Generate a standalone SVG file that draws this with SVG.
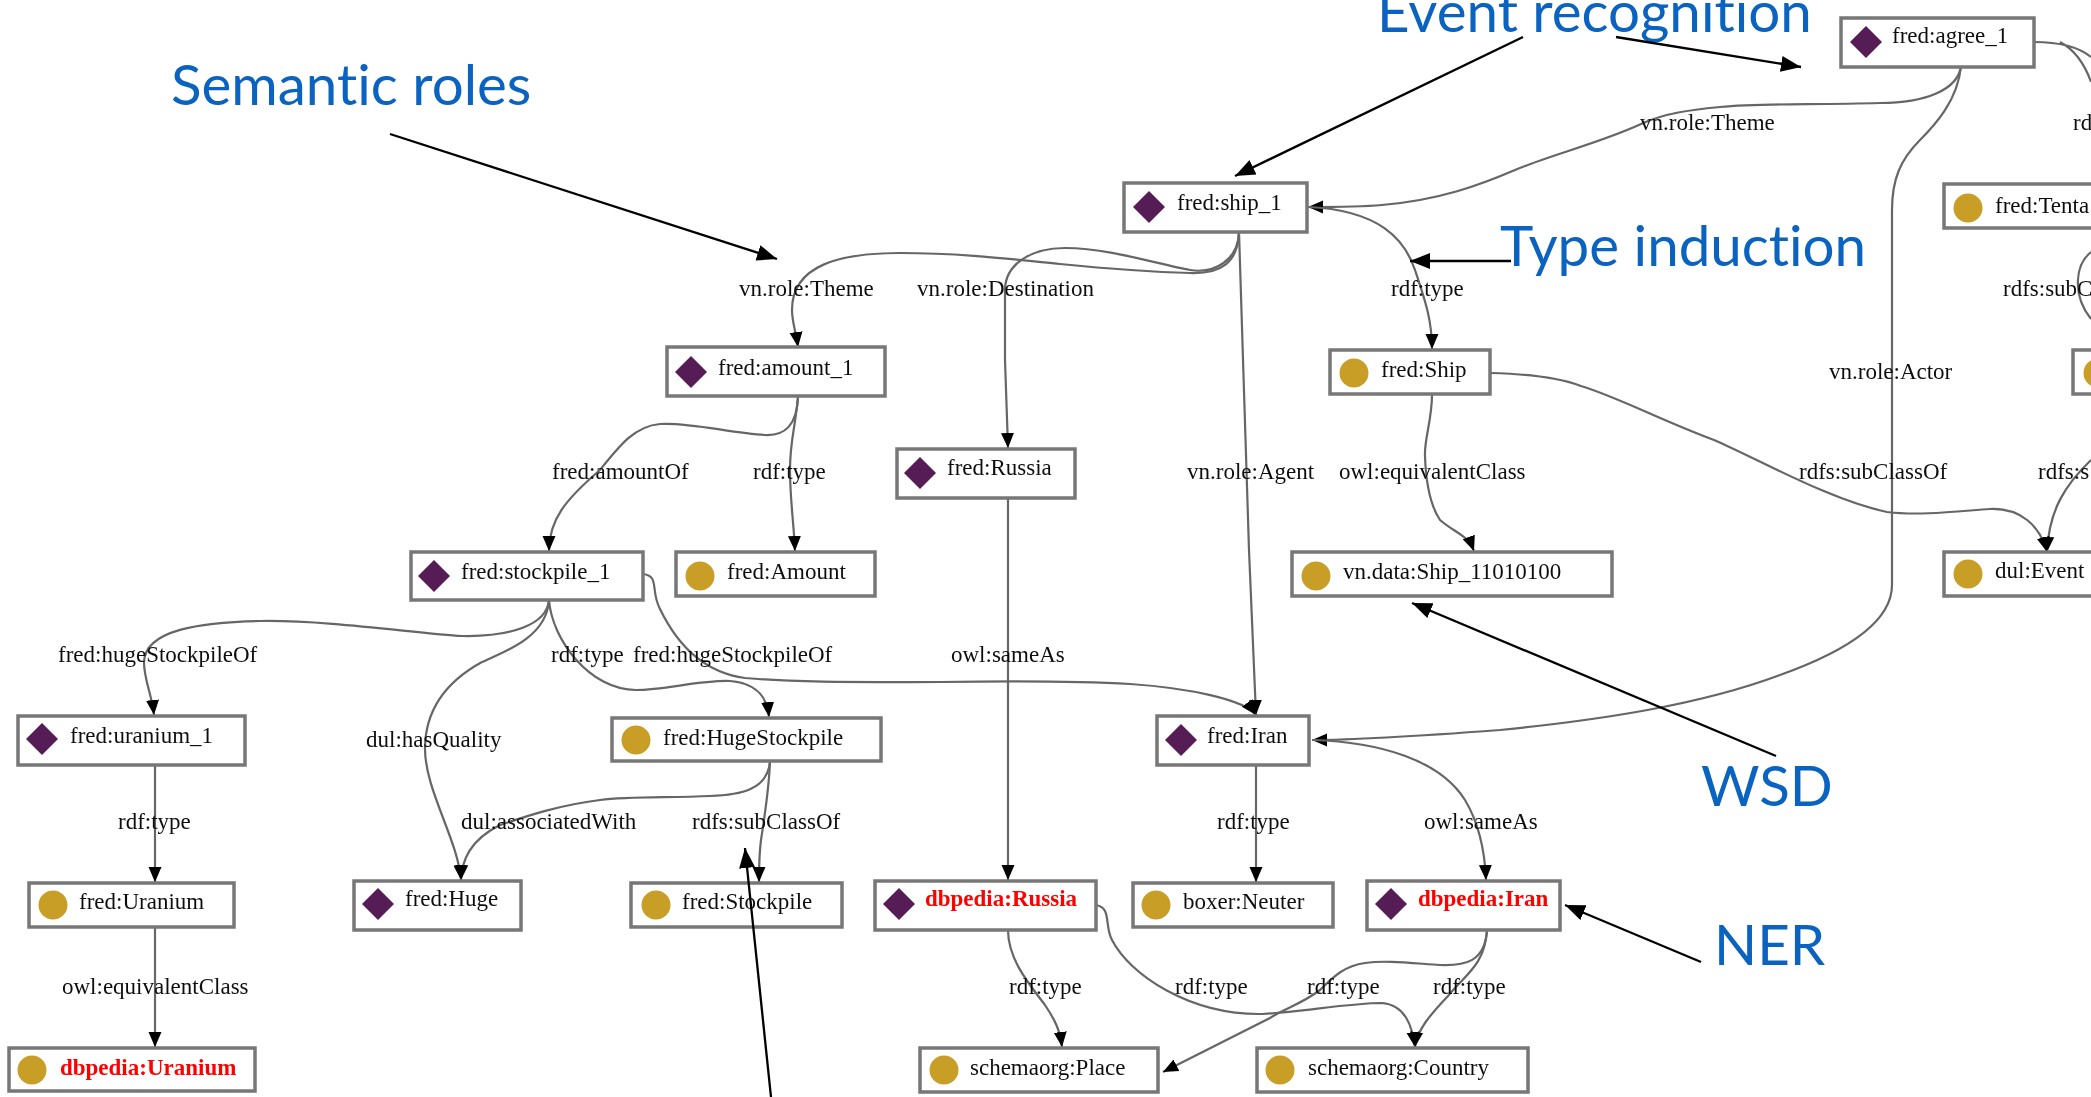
<svg xmlns="http://www.w3.org/2000/svg" width="2091" height="1097" viewBox="0 0 2091 1097">
<style>
.n{fill:#fff;stroke:#777;stroke-width:3.5}
.t{font-family:"Liberation Serif","Times New Roman",serif;font-size:23px;fill:#111}
.r{fill:#f00;font-weight:bold}
.d{fill:#541c57}
.c{fill:#c99e28}
.e{fill:none;stroke:#666;stroke-width:2.2}
.a{fill:none;stroke:#000;stroke-width:2.3}
.b{font-family:Lato,"Open Sans",sans-serif;font-size:56.5px;fill:#0a63c0;font-variant-ligatures:none}
</style>
<defs>
<filter id="soft" x="-5%" y="-5%" width="110%" height="110%"><feGaussianBlur stdDeviation="0.45"/></filter>
<polygon id="dia" points="0,-16 16,0 0,16 -16,0"/>
<marker id="h" markerUnits="userSpaceOnUse" markerWidth="17" markerHeight="15" refX="15" refY="7" orient="auto"><polygon points="0,0.5 15,7 0,13.5" fill="#000"/></marker>
<marker id="ha" markerUnits="userSpaceOnUse" markerWidth="22" markerHeight="20" refX="20" refY="10" orient="auto"><polygon points="0,2 20,10 0,18" fill="#000"/></marker>
</defs>
<rect width="2091" height="1097" fill="#fff"/>
<g filter="url(#soft)">
<g id="connectors" class="edges">
<path class="e" marker-end="url(#h)" d="M1239 232C1238 262 1222 274 1190 273C1150 272 1100 268 1060 264C1010 259 960 253 900 253C840 253 792 265 792 310C792 322 796 332 798 347"/>
<path class="e" marker-end="url(#h)" d="M1239 232C1238 260 1215 274 1190 270C1160 265 1110 248 1065 248C1030 248 1005 265 1005 290L1005 360L1008 448"/>
<path class="e" marker-end="url(#h)" d="M1239 232L1249 550L1256 715"/>
<path class="e" marker-end="url(#h)" d="M1961 66C1958 90 1925 103 1880 103C1810 105 1760 103 1720 107C1690 110 1665 113 1641 124C1600 143 1550 155 1515 170C1480 185 1440 200 1382 205C1360 207 1330 207 1308 207"/>
<path class="e" marker-end="url(#h)" d="M1308 207C1380 210 1405 240 1415 270C1425 300 1432 320 1432 349"/>
<path class="e" marker-end="url(#h)" d="M1961 66C1958 100 1935 125 1920 140C1900 160 1892 180 1892 210L1892 585C1892 620 1850 650 1780 675C1700 705 1600 720 1500 730C1420 736 1360 740 1312 740"/>
<path class="e" marker-end="url(#h)" d="M1312 740C1380 742 1440 760 1465 800C1480 825 1485 855 1486 880"/>
<path class="e" marker-end="url(#h)" d="M1256 765L1256 882"/>
<path class="e" marker-end="url(#h)" d="M1008 498L1008 880"/>
<path class="e" marker-end="url(#h)" d="M798 397C797 425 785 436 765 435C730 433 690 422 660 424C635 426 620 445 600 470C565 500 549 520 549 551"/>
<path class="e" marker-end="url(#h)" d="M798 397C795 430 790 440 790 470C790 500 794 525 795 551"/>
<path class="e" marker-end="url(#h)" d="M549 600C547 625 510 637 462 636C420 634 330 620 261 621C200 622 145 630 144 662C144 680 152 695 154 715"/>
<path class="e" marker-end="url(#h)" d="M549 600C547 635 510 650 482 662C440 685 425 715 425 749C425 790 458 840 461 880"/>
<path class="e" marker-end="url(#h)" d="M549 600C552 640 590 690 636 690C665 690 700 680 730 681C755 683 767 695 769 717"/>
<path class="e" marker-end="url(#h)" d="M643 574C660 576 650 590 660 609C675 640 700 672 745 678C800 683 870 682 940 682C1010 681 1080 681 1130 684C1190 688 1245 700 1256 715"/>
<path class="e" marker-end="url(#h)" d="M770 761C768 790 740 795 710 796C670 798 630 796 600 800C560 805 530 815 500 825C470 840 462 860 461 880"/>
<path class="e" marker-end="url(#h)" d="M770 761C769 790 764 820 761 840C759 855 759 870 759 882"/>
<path class="e" marker-end="url(#h)" d="M155 765L155 882"/>
<path class="e" marker-end="url(#h)" d="M155 927L155 1047"/>
<path class="e" marker-end="url(#h)" d="M1008 930C1008 960 1030 985 1045 1005C1055 1020 1060 1030 1062 1047"/>
<path class="e" marker-end="url(#h)" d="M1096 905C1112 908 1104 925 1112 940C1130 975 1190 1015 1262 1014C1300 1012 1350 1003 1382 1003C1405 1005 1412 1025 1415 1047"/>
<path class="e" marker-end="url(#h)" d="M1487 930C1485 962 1465 966 1440 965C1410 963 1385 960 1365 963C1345 966 1335 975 1320 990C1300 1005 1285 1008 1270 1018L1163 1072"/>
<path class="e" marker-end="url(#h)" d="M1487 930C1485 965 1465 975 1448 996C1430 1015 1417 1030 1415 1047"/>
<path class="e" d="M2034 42C2060 42 2080 48 2091 57M2060 42C2075 50 2085 65 2091 82"/>
<path class="e" d="M2091 252C2075 265 2072 295 2091 319"/>
<path class="e" marker-end="url(#h)" d="M2091 460C2065 485 2049 510 2047 552"/>
<path class="e" marker-end="url(#h)" d="M1490 373C1530 374 1560 378 1581 386C1620 398 1660 420 1714 440C1760 460 1830 500 1887 512C1920 516 1960 511 1990 509C2020 508 2040 525 2047 552"/>
<path class="e" marker-end="url(#h)" d="M1432 395C1432 420 1424 440 1425 456C1426 485 1430 505 1440 520C1455 533 1468 535 1474 551"/>
</g>
<g id="labels">
<text class="t" x="739" y="296">vn.role:Theme</text>
<text class="t" x="917" y="296">vn.role:Destination</text>
<text class="t" x="1391" y="296">rdf:type</text>
<text class="t" x="1640" y="130">vn.role:Theme</text>
<text class="t" x="2073" y="130">rd</text>
<text class="t" x="2003" y="296">rdfs:subC</text>
<text class="t" x="1829" y="379">vn.role:Actor</text>
<text class="t" x="1187" y="479">vn.role:Agent</text>
<text class="t" x="1339" y="479">owl:equivalentClass</text>
<text class="t" x="1799" y="479">rdfs:subClassOf</text>
<text class="t" x="2038" y="479">rdfs:s</text>
<text class="t" x="552" y="479">fred:amountOf</text>
<text class="t" x="753" y="479">rdf:type</text>
<text class="t" x="58" y="662">fred:hugeStockpileOf</text>
<text class="t" x="551" y="662">rdf:type</text>
<text class="t" x="633" y="662">fred:hugeStockpileOf</text>
<text class="t" x="951" y="662">owl:sameAs</text>
<text class="t" x="366" y="747">dul:hasQuality</text>
<text class="t" x="118" y="829">rdf:type</text>
<text class="t" x="461" y="829">dul:associatedWith</text>
<text class="t" x="692" y="829">rdfs:subClassOf</text>
<text class="t" x="1217" y="829">rdf:type</text>
<text class="t" x="1424" y="829">owl:sameAs</text>
<text class="t" x="62" y="994">owl:equivalentClass</text>
<text class="t" x="1009" y="994">rdf:type</text>
<text class="t" x="1175" y="994">rdf:type</text>
<text class="t" x="1307" y="994">rdf:type</text>
<text class="t" x="1433" y="994">rdf:type</text>
</g>
<g id="agree_1"><rect class="n" x="1841" y="18" width="193" height="49"/><use href="#dia" class="d" x="1866" y="42"/><text class="t" x="1892" y="43">fred:agree_1</text></g>
<g id="ship_1"><rect class="n" x="1124" y="183" width="183" height="49"/><use href="#dia" class="d" x="1149" y="207"/><text class="t" x="1177" y="210">fred:ship_1</text></g>
<g id="Tenta"><rect class="n" x="1944" y="184" width="160" height="44"/><circle class="c" cx="1968" cy="208" r="14.5"/><text class="t" x="1995" y="213">fred:Tenta</text></g>
<g id="amount_1"><rect class="n" x="667" y="347" width="218" height="49"/><use href="#dia" class="d" x="691" y="372"/><text class="t" x="718" y="375">fred:amount_1</text></g>
<g id="Ship"><rect class="n" x="1330" y="350" width="160" height="44"/><circle class="c" cx="1354" cy="373" r="14.5"/><text class="t" x="1381" y="377">fred:Ship</text></g>
<g id="Offscreen"><rect class="n" x="2073" y="350" width="40" height="44"/><circle class="c" cx="2098" cy="373" r="14.5"/></g>
<g id="Russia"><rect class="n" x="897" y="449" width="178" height="49"/><use href="#dia" class="d" x="920" y="473"/><text class="t" x="947" y="475">fred:Russia</text></g>
<g id="stockpile_1"><rect class="n" x="411" y="552" width="232" height="48"/><use href="#dia" class="d" x="434" y="576"/><text class="t" x="461" y="579">fred:stockpile_1</text></g>
<g id="Amount"><rect class="n" x="676" y="552" width="199" height="44"/><circle class="c" cx="700" cy="576" r="14.5"/><text class="t" x="727" y="579">fred:Amount</text></g>
<g id="vn_data"><rect class="n" x="1292" y="552" width="320" height="44"/><circle class="c" cx="1316" cy="576" r="14.5"/><text class="t" x="1343" y="579">vn.data:Ship_11010100</text></g>
<g id="Event"><rect class="n" x="1944" y="552" width="160" height="44"/><circle class="c" cx="1968" cy="574" r="14.5"/><text class="t" x="1995" y="578">dul:Event</text></g>
<g id="uranium_1"><rect class="n" x="18" y="716" width="227" height="49"/><use href="#dia" class="d" x="42" y="739"/><text class="t" x="70" y="743">fred:uranium_1</text></g>
<g id="HugeStockpile"><rect class="n" x="612" y="718" width="269" height="43"/><circle class="c" cx="636" cy="740" r="14.5"/><text class="t" x="663" y="745">fred:HugeStockpile</text></g>
<g id="Iran"><rect class="n" x="1157" y="716" width="152" height="49"/><use href="#dia" class="d" x="1181" y="740"/><text class="t" x="1207" y="743">fred:Iran</text></g>
<g id="Uranium"><rect class="n" x="29" y="883" width="205" height="44"/><circle class="c" cx="53" cy="905" r="14.5"/><text class="t" x="79" y="909">fred:Uranium</text></g>
<g id="Huge"><rect class="n" x="354" y="881" width="167" height="49"/><use href="#dia" class="d" x="378" y="904"/><text class="t" x="405" y="906">fred:Huge</text></g>
<g id="Stockpile"><rect class="n" x="631" y="883" width="211" height="44"/><circle class="c" cx="656" cy="905" r="14.5"/><text class="t" x="682" y="909">fred:Stockpile</text></g>
<g id="dbpedia_Russia"><rect class="n" x="875" y="881" width="221" height="49"/><use href="#dia" class="d" x="899" y="904"/><text class="t r" x="925" y="906">dbpedia:Russia</text></g>
<g id="Neuter"><rect class="n" x="1133" y="883" width="200" height="44"/><circle class="c" cx="1156" cy="905" r="14.5"/><text class="t" x="1183" y="909">boxer:Neuter</text></g>
<g id="dbpedia_Iran"><rect class="n" x="1367" y="881" width="193" height="49"/><use href="#dia" class="d" x="1391" y="904"/><text class="t r" x="1418" y="906">dbpedia:Iran</text></g>
<g id="dbpedia_Uranium"><rect class="n" x="9" y="1048" width="246" height="43"/><circle class="c" cx="32" cy="1070" r="14.5"/><text class="t r" x="60" y="1075">dbpedia:Uranium</text></g>
<g id="Place"><rect class="n" x="920" y="1048" width="238" height="44"/><circle class="c" cx="944" cy="1070" r="14.5"/><text class="t" x="970" y="1075">schemaorg:Place</text></g>
<g id="Country"><rect class="n" x="1257" y="1048" width="271" height="44"/><circle class="c" cx="1280" cy="1070" r="14.5"/><text class="t" x="1308" y="1075">schemaorg:Country</text></g>
</g>
<g id="annotations">
<text class="b" x="171" y="105">Semantic roles</text>
<text class="b" x="1377" y="32">Event recognition</text>
<text class="b" x="1500" y="266">Type induction</text>
<text class="b" x="1701" y="806">WSD</text>
<text class="b" x="1714" y="965">NER</text>
<path class="a" marker-end="url(#ha)" d="M390 134L777 259"/>
<path class="a" marker-end="url(#ha)" d="M1523 37L1235 176"/>
<path class="a" marker-end="url(#ha)" d="M1616 37L1801 67"/>
<path class="a" marker-end="url(#ha)" d="M1511 261L1410 261"/>
<path class="a" marker-end="url(#ha)" d="M1776 756L1412 603"/>
<path class="a" marker-end="url(#ha)" d="M1701 962L1565 905"/>
<path class="a" marker-end="url(#ha)" d="M771 1097L745 848"/>
</g>
</svg>
